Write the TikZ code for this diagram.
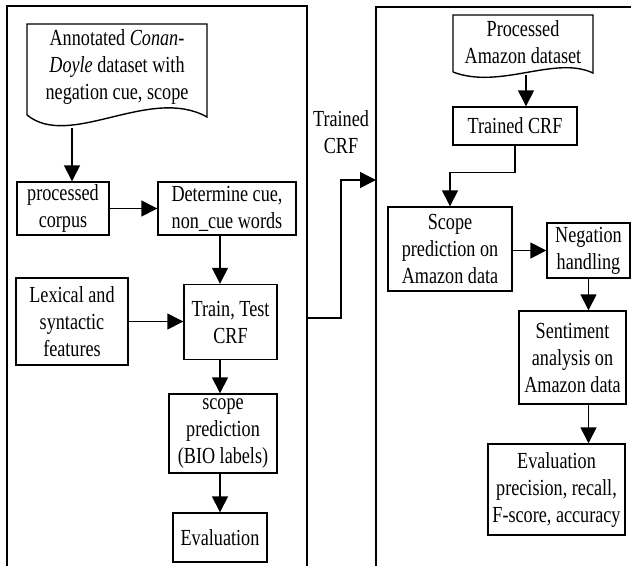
\documentclass[tikz,border=0pt]{standalone}
\usepackage{fontspec}
\setmainfont{Liberation Serif}[FakeStretch=0.79]
\usetikzlibrary{arrows.meta, positioning, calc}

\tikzset{
  procbox/.style={draw, line width=1.4pt, align=center, inner sep=0pt},
  flow/.style={line width=1.4pt, -{Triangle[length=16pt, width=16pt]}},
  frame/.style={line width=1.4pt}
}

\begin{document}
\begin{tikzpicture}[x=1pt, y=-1pt, font=\fontsize{23pt}{27pt}\selectfont]
\useasboundingbox (0,0) rectangle (631,566);

% Left panel: training
\draw[frame] (7,566) -- (7,6) -- (307,6) -- (307,566);

\node[align=center, minimum width=180pt, minimum height=91pt, inner sep=0pt] (annot) at (117,67)
  {Annotated \textit{Conan-}\\\textit{Doyle} dataset with\\negation cue, scope};
\draw[frame] (27,115) -- (27,24) -- (207,24) -- (207,117)
  .. controls (150,85) and (70,150) .. (27,115);
\coordinate (annotb) at (72,128);

\node[procbox, minimum width=92pt, minimum height=53pt] (corpus) at (63,208.5) {processed\\corpus};
\node[procbox, minimum width=138pt, minimum height=53pt] (cue) at (227,208.5) {Determine cue,\\non\_cue words};
\node[procbox, minimum width=112pt, minimum height=87pt] (lexical) at (72,321.5) {Lexical and\\syntactic\\features};
\node[procbox, minimum width=93pt, minimum height=75pt] (train) at (230.5,322) {Train, Test\\CRF};
\node[procbox, minimum width=108pt, minimum height=79pt] (scope) at (223,433.5) {scope\\prediction\\(BIO labels)};
\node[procbox, minimum width=94pt, minimum height=49pt] (evalone) at (220,537.5) {Evaluation};

\draw[flow] (annotb) -- (annotb |- corpus.north);
\draw[flow] (corpus.east) -- (cue.west);
\draw[flow] (cue.south -| evalone) -- (train.north -| evalone);
\draw[flow] (lexical.east) -- (lexical.east -| train.west);
\draw[flow] (train.south -| evalone) -- (scope.north -| evalone);
\draw[flow] (scope.south -| evalone) -- (evalone.north);

% Right panel: applying the trained model
\draw[frame] (376,566) -- (376,7) -- (631,7);

\node[align=center, minimum width=140pt, minimum height=57pt, inner sep=0pt] (amazon) at (523,42)
  {Processed\\Amazon dataset};
\draw[frame] (453,72) -- (453,15) -- (593,15) -- (593,73)
  .. controls (555,55) and (500,90) .. (453,72);
\coordinate (amazonb) at (526,75);

\node[procbox, minimum width=124pt, minimum height=38pt] (tcrf) at (515,126) {Trained CRF};
\node[procbox, minimum width=124pt, minimum height=84pt] (scopeamz) at (450,249) {Scope\\prediction on\\Amazon data};
\node[procbox, minimum width=83pt, minimum height=55pt] (neg) at (588.5,250.5) {Negation\\handling};
\node[procbox, minimum width=107pt, minimum height=93pt] (senti) at (572.5,357.5) {Sentiment\\analysis on\\Amazon data};
\node[procbox, minimum width=137pt, minimum height=91pt] (evaltwo) at (556.5,489.5) {Evaluation\\precision, recall,\\F-score, accuracy};

\draw[flow] (amazonb) -- (amazonb |- tcrf.north);
\draw[flow] (tcrf.south) -- ++(0,27) -| (scopeamz.north);
\draw[flow] (scopeamz.east |- neg.west) -- (neg.west);
\draw[flow] (neg.south) -- (neg.south |- senti.north);
\draw[flow] (senti.south -| neg) -- (evaltwo.north -| neg);

% Hand-over between panels
\coordinate (leftout) at (307,318);
\coordinate (rightin) at (376,180);
\node[align=center, inner sep=0pt] (handover) at (341,132) {Trained\\CRF};
\draw[flow] (leftout) -- ++(34,0) |- (rightin);
\end{tikzpicture}
\end{document}
